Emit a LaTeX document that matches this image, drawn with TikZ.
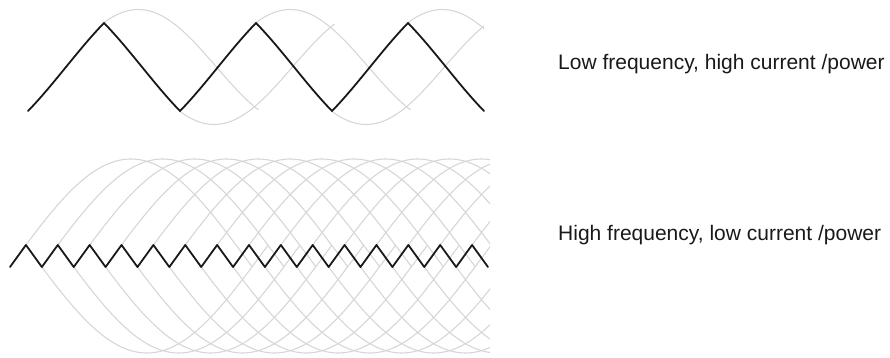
\documentclass[tikz,border=0pt]{standalone}
\usepackage{fontspec}
\setmainfont{Liberation Sans}
\begin{document}
\begin{tikzpicture}[x=1pt,y=-1pt,
  greyline/.style={draw=black!16, line width=1.1pt},
  blackline/.style={draw=black!90, line width=1.8pt, line join=round, line cap=round},
  txt/.style={font=\fontsize{21}{25}\selectfont, anchor=base west, inner sep=0pt, text=black!90}]
\useasboundingbox (0,0) rectangle (890,358);
% ---- top panel: grey continuations ----
\begin{scope}
  \clip (0,0) rectangle (484,135);
  \foreach \k in {0,...,4} {
    \pgfmathsetmacro\xe{104+76*\k}
    \pgfmathsetmacro\xend{\xe+154.5}
    \pgfmathsetmacro\sg{ifthenelse(mod(\k,2)==0,-1,1)}
    \draw[greyline] plot[domain=\xe:\xend, samples=70, smooth]
      (\x, {67+\sg*57.5*cos(1.15*(\x-\xe-34.2))});
  }
\end{scope}
% ---- top panel: black wave ----
\draw[blackline] plot[domain=28:484, samples=457]
  (\x, {ifthenelse(mod(\x-28,152)<76,
     67+80*sin(0.878*(38-mod(\x-28,152))),
     67+80*sin(0.878*(mod(\x-28,152)-114)))});
% ---- bottom panel: grey continuations ----
\begin{scope}
  \clip (0,140) rectangle (490,358);
  \foreach \j in {1,...,29} {
    \pgfmathsetmacro\xs{10+15.933*\j}
    \pgfmathsetmacro\xend{\xs+226}
    \pgfmathsetmacro\sg{ifthenelse(mod(\j,2)==1,-1,1)}
    \draw[greyline] plot[domain=\xs:\xend, samples=80, smooth]
      (\x, {256+\sg*97*cos(0.795*(\x-\xs-105))});
  }
\end{scope}
% ---- bottom panel: black zigzag ----
\draw[blackline] (10,267) \foreach \j in {1,...,30} { -- ({10+15.933*\j}, {ifthenelse(mod(\j,2)==1,245,267)}) };
% ---- labels ----
\node[txt] (lowf) at (558,70) {Low frequency, high current /power};
\node[txt] (highf) at (558,240) {High frequency, low current /power};
\end{tikzpicture}
\end{document}
